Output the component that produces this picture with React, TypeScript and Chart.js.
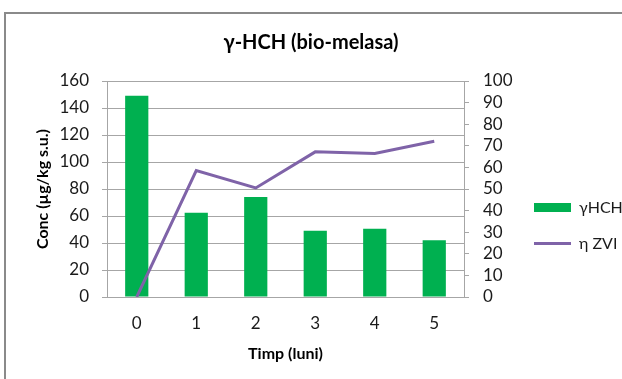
import React, { useEffect, useRef } from "react";
import { Chart, registerables } from "chart.js";

Chart.register(...registerables);

const categories = ["0", "1", "2", "3", "4", "5"];
const hchValues = [149, 62.5, 74, 49, 50.5, 42];
const zviValues = [0, 58.5, 50.5, 67.2, 66.4, 72.1];
const leftTicks = [0, 20, 40, 60, 80, 100, 120, 140, 160];
const rightTicks = [0, 10, 20, 30, 40, 50, 60, 70, 80, 90, 100];

const FONT = "Lato, 'Open Sans', sans-serif";
const TEXT = "#1a1a1a";
const GRID = "#A6A6A6";

export default function App() {
  const ref = useRef<HTMLCanvasElement | null>(null);

  useEffect(() => {
    if (!ref.current) return;
    const chart = new Chart(ref.current, {
      type: "bar",
      data: {
        labels: categories,
        datasets: [
          {
            type: "bar",
            label: "γHCH",
            data: hchValues,
            backgroundColor: "#00B050",
            borderColor: "#00B050",
            borderWidth: 0,
            yAxisID: "y",
            barPercentage: 0.39,
            categoryPercentage: 1,
            order: 2,
            pointStyle: "rect",
          } as any,
          {
            type: "line",
            label: "η ZVI",
            data: zviValues,
            borderColor: "#7F63A8",
            backgroundColor: "#7F63A8",
            borderWidth: 3,
            pointRadius: 0,
            pointHoverRadius: 0,
            tension: 0,
            yAxisID: "y1",
            order: 1,
            pointStyle: "line",
          } as any,
        ],
      },
      options: {
        animation: false,
        responsive: false,
        maintainAspectRatio: false,
        layout: { padding: { left: 0, right: 0, top: 0, bottom: 0 } },
        plugins: {
          title: {
            display: true,
            text: "γ-HCH (bio-melasa)",
            color: "#000000",
            font: { family: FONT, size: 20, weight: "bold" },
            padding: { top: 31, bottom: 26 },
          },
          legend: {
            display: true,
            position: "right",
            align: "center",
            maxWidth: 108,
            title: {
              display: true,
              text: " ",
              font: { family: FONT, size: 1 },
              padding: { top: 71, bottom: 0 },
            },
            labels: {
              usePointStyle: true,
              pointStyleWidth: 37,
              boxHeight: 9,
              padding: 20,
              color: TEXT,
              font: { family: FONT, size: 16 },
              sort: (a: any, b: any) => a.datasetIndex - b.datasetIndex,
            },
          },
          tooltip: { enabled: false },
        },
        scales: {
          x: {
            offset: true,
            grid: { display: false, drawTicks: false },
            border: { display: true, color: GRID, width: 1 },
            ticks: { color: TEXT, font: { family: FONT, size: 17 }, padding: 16 },
            title: {
              display: true,
              text: "Timp (luni)",
              color: "#000000",
              font: { family: FONT, size: 16, weight: "bold" },
              padding: { top: 0, bottom: 16 },
            },
            afterFit: (s: any) => {
              s.height = 82;
            },
          },
          y: {
            position: "left",
            min: 0,
            max: 160,
            afterBuildTicks: (s: any) => {
              s.ticks = leftTicks.map((v) => ({ value: v }));
            },
            grid: { color: GRID, drawTicks: true, tickLength: 5, lineWidth: 1 },
            border: { display: true, color: GRID, width: 1 },
            ticks: { color: TEXT, font: { family: FONT, size: 17 }, padding: 13, autoSkip: false },
            title: {
              display: true,
              text: "Conc (µg/kg s.u.)",
              color: "#000000",
              font: { family: FONT, size: 16, weight: "bold" },
              padding: { top: 33, bottom: 0 },
            },
            afterFit: (s: any) => {
              s.width = 107;
            },
          },
          y1: {
            position: "right",
            min: 0,
            max: 100,
            afterBuildTicks: (s: any) => {
              s.ticks = rightTicks.map((v) => ({ value: v }));
            },
            grid: { drawOnChartArea: false, color: GRID, drawTicks: true, tickLength: 5 },
            border: { display: true, color: GRID, width: 1 },
            ticks: { color: TEXT, font: { family: FONT, size: 17 }, padding: 14, autoSkip: false },
            afterFit: (s: any) => {
              s.width = 50;
            },
          },
        },
      } as any,
    });
    return () => chart.destroy();
  }, []);

  return (
    <div
      style={{
        position: "fixed",
        left: 0,
        top: 0,
        width: 622,
        height: 379,
        overflow: "hidden",
        background: "#ffffff",
      }}
    >
      <div
        style={{
          position: "absolute",
          left: 4,
          top: 12,
          width: 700,
          height: 500,
          border: "2px solid #8A8A8A",
          boxSizing: "border-box",
        }}
      />
      <canvas
        ref={ref}
        width={622}
        height={379}
        style={{ position: "absolute", left: 0, top: 0, width: 622, height: 379 }}
      />
    </div>
  );
}
